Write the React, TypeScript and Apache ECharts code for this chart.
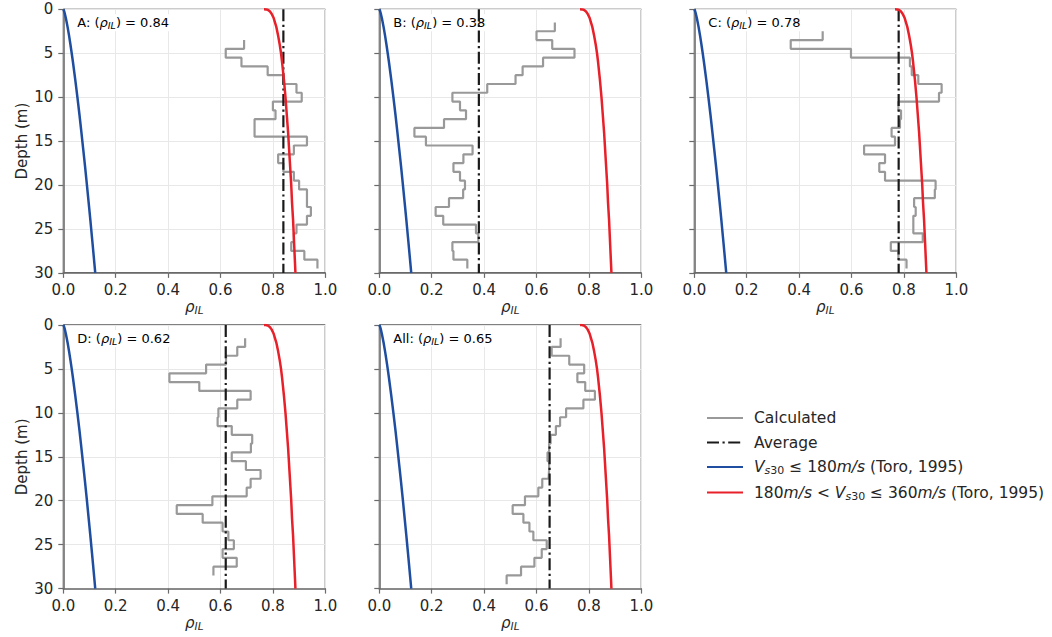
import React, { useEffect, useRef } from "react";
import * as echarts from "echarts";

// ---- data ----
const panelLabels = ["A", "B", "C", "D", "All"];
const panelAverages = [0.84, 0.38, 0.78, 0.62, 0.65];
const layerStarts = [3.5, 1.5, 2.5, 1.5, 1.5];
const layerThickness = 1;

const calcA = [0.69, 0.62, 0.68, 0.78, 0.84, 0.89, 0.91, 0.8, 0.81, 0.73, 0.73, 0.93, 0.88, 0.82, 0.84, 0.88, 0.9, 0.93, 0.93, 0.945, 0.93, 0.89, 0.88, 0.87, 0.92, 0.97];
const calcB = [0.67, 0.6, 0.66, 0.745, 0.625, 0.547, 0.52, 0.412, 0.279, 0.308, 0.331, 0.247, 0.134, 0.178, 0.356, 0.321, 0.283, 0.308, 0.327, 0.32, 0.266, 0.215, 0.244, 0.369, 0.378, 0.279, 0.283, 0.336];
const calcC = [0.49, 0.368, 0.598, 0.823, 0.83, 0.855, 0.944, 0.934, 0.779, 0.789, 0.785, 0.753, 0.766, 0.648, 0.728, 0.706, 0.728, 0.921, 0.918, 0.839, 0.845, 0.836, 0.836, 0.872, 0.75, 0.779, 0.81];
const calcD = [0.694, 0.664, 0.621, 0.545, 0.405, 0.519, 0.715, 0.664, 0.592, 0.589, 0.643, 0.721, 0.716, 0.643, 0.697, 0.753, 0.715, 0.7, 0.569, 0.433, 0.532, 0.608, 0.63, 0.651, 0.608, 0.662, 0.573];
const calcAll = [0.692, 0.658, 0.725, 0.782, 0.756, 0.786, 0.823, 0.779, 0.713, 0.69, 0.674, 0.654, 0.648, 0.642, 0.648, 0.646, 0.622, 0.607, 0.556, 0.509, 0.55, 0.573, 0.588, 0.639, 0.62, 0.592, 0.541, 0.486];
const calcPanels = [calcA, calcB, calcC, calcD, calcAll];

const toroDepths = [0, 0.01, 0.02, 0.05, 0.1, 0.25, 0.5, 1, 2, 3, 4, 5, 6, 8, 10, 12, 14, 16, 18, 20, 22, 24, 26, 28, 30];
const toroSoft = [0, 0.0003, 0.0006, 0.001, 0.0018, 0.0035, 0.0058, 0.0097, 0.0163, 0.022, 0.0272, 0.0321, 0.0368, 0.0456, 0.0538, 0.0617, 0.0691, 0.0763, 0.0834, 0.0902, 0.0968, 0.1033, 0.1096, 0.1158, 0.1219];
const toroStiff = [0.766, 0.774, 0.776, 0.779, 0.783, 0.789, 0.795, 0.803, 0.813, 0.82, 0.826, 0.831, 0.835, 0.842, 0.848, 0.853, 0.858, 0.862, 0.866, 0.87, 0.873, 0.877, 0.88, 0.883, 0.886];

const xTicks = { min: 0, max: 1, interval: 0.2 };
const yTicks = { min: 0, max: 30, interval: 5 };

const NAME_CALC = "Calculated";
const NAME_AVG = "Average";
const NAME_SOFT = "Vs30 ≤ 180m/s (Toro, 1995)";
const NAME_STIFF = "180m/s < Vs30 ≤ 360m/s (Toro, 1995)";

// ---- layout ----
const colLeft = [63.3, 379.3, 694.3];
const rowTop = [9.3, 325];
const gw = 262;
const gh = 263.6;
const FONT = "DejaVu Sans";
const spineGray = "#6b6b6b";

function stepPoints(start: number, vals: number[]) {
  const pts: number[][] = [];
  vals.forEach((v, i) => {
    pts.push([v, start + i * layerThickness]);
    pts.push([v, start + (i + 1) * layerThickness]);
  });
  return pts;
}

export default function App() {
  const ref = useRef<HTMLDivElement>(null);
  useEffect(() => {
    if (!ref.current) return;
    const chart = echarts.init(ref.current, null, { renderer: "svg" });
    const grids: any[] = [];
    const xAxes: any[] = [];
    const yAxes: any[] = [];
    const series: any[] = [];
    const graphics: any[] = [];
    const richSub = {
      i: { fontFamily: FONT, fontStyle: "italic", fontSize: 15, color: "#262626" },
      s: { fontFamily: FONT, fontStyle: "italic", fontSize: 10.5, color: "#262626", padding: [7, 0, 0, 0] },
    };
    panelLabels.forEach((lab, p) => {
      const col = p % 3;
      const row = Math.floor(p / 3);
      const left = colLeft[col];
      const top = rowTop[row];
      grids.push({ left, top, width: gw, height: gh, show: true, borderColor: "#000", borderWidth: 1, backgroundColor: "transparent" });
      xAxes.push({
        type: "value", gridIndex: p, position: "bottom", ...xTicks,
        axisLine: { show: true, onZero: false, lineStyle: { color: spineGray, width: 1.6 } },
        axisTick: { show: true, length: 5, lineStyle: { color: spineGray, width: 1.2 } },
        axisLabel: { fontFamily: FONT, fontSize: 15, color: "#262626", margin: 10, formatter: (v: number) => v.toFixed(1) },
        splitLine: { show: true, lineStyle: { color: "#e8e8e8", width: 1 } },
        name: "{i|ρ}{s|IL}", nameLocation: "middle", nameGap: 25,
        nameTextStyle: { rich: richSub },
      });
      yAxes.push({
        type: "value", gridIndex: p, inverse: true, position: "left", ...yTicks,
        axisLine: { show: true, onZero: false, lineStyle: { color: spineGray, width: 1.6 } },
        axisTick: { show: true, length: 5, lineStyle: { color: spineGray, width: 1.2 } },
        axisLabel: { show: col === 0, fontFamily: FONT, fontSize: 15, color: "#262626", margin: 10 },
        splitLine: { show: true, lineStyle: { color: "#e8e8e8", width: 1 } },
        name: col === 0 ? "Depth (m)" : "", nameLocation: "middle", nameGap: 34,
        nameTextStyle: { fontFamily: FONT, fontSize: 15, color: "#262626" },
      });
      series.push({
        type: "line", name: NAME_CALC, xAxisIndex: p, yAxisIndex: p, symbol: "none",
        data: stepPoints(layerStarts[p], calcPanels[p]),
        lineStyle: { color: "#999999", width: 2.2 }, itemStyle: { color: "#999999" }, z: 2,
      });
      series.push({
        type: "line", name: NAME_AVG, xAxisIndex: p, yAxisIndex: p, symbol: "none",
        data: [[panelAverages[p], yTicks.min], [panelAverages[p], yTicks.max]],
        lineStyle: { color: "#1a1a1a", width: 2.2, type: [12, 3.5, 2.2, 3.5] }, itemStyle: { color: "#1a1a1a" }, z: 3,
      });
      series.push({
        type: "line", name: NAME_SOFT, xAxisIndex: p, yAxisIndex: p, symbol: "none", smooth: false,
        data: toroDepths.map((d, i) => [toroSoft[i], d]),
        lineStyle: { color: "#1f4ea0", width: 2.5 }, itemStyle: { color: "#1f4ea0" }, z: 4,
      });
      series.push({
        type: "line", name: NAME_STIFF, xAxisIndex: p, yAxisIndex: p, symbol: "none", smooth: false,
        data: toroDepths.map((d, i) => [toroStiff[i], d]),
        lineStyle: { color: "#e8202a", width: 2.5 }, itemStyle: { color: "#e8202a" }, z: 5,
      });
      graphics.push({
        type: "text", left: left + 12, top: top + 5, z: 1,
        style: {
          text: `{n|${lab}: (}{i|ρ}{s|IL}{n|) = ${panelAverages[p].toFixed(2)}}`,
          backgroundColor: "#ffffff", padding: [1, 2, 1, 2],
          rich: {
            n: { fontFamily: FONT, fontSize: 13, color: "#262626" },
            i: { fontFamily: FONT, fontStyle: "italic", fontSize: 13, color: "#262626" },
            s: { fontFamily: FONT, fontStyle: "italic", fontSize: 9.5, color: "#262626", padding: [5, 0, 0, 0] },
          },
        },
      });
    });

    const legendMap: Record<string, string> = {
      [NAME_CALC]: "{n|Calculated}",
      [NAME_AVG]: "{n|Average}",
      [NAME_SOFT]: "{i|V}{si|s}{sn|30}{n| ≤ 180}{i|m/s}{n| (Toro, 1995)}",
      [NAME_STIFF]: "{n|180}{i|m/s}{n| < }{i|V}{si|s}{sn|30}{n| ≤ 360}{i|m/s}{n| (Toro, 1995)}",
    };

    chart.setOption({
      animation: false,
      grid: grids,
      xAxis: xAxes,
      yAxis: yAxes,
      series,
      graphic: graphics,
      legend: {
        show: true, orient: "vertical", left: 706, top: 410, padding: 0,
        itemWidth: 36, itemHeight: 14, itemGap: 8.5,
        itemStyle: { opacity: 0, color: "rgba(0,0,0,0)", borderWidth: 0 },
        data: [NAME_CALC, NAME_AVG, NAME_SOFT, NAME_STIFF],
        formatter: (name: string) => legendMap[name] || name,
        textStyle: {
          fontFamily: FONT, fontSize: 15.5, color: "#262626", padding: [0, 0, 0, 6],
          rich: {
            n: { fontFamily: FONT, fontSize: 15.5, color: "#262626", lineHeight: 19 },
            i: { fontFamily: FONT, fontStyle: "italic", fontSize: 15.5, color: "#262626", lineHeight: 19 },
            si: { fontFamily: FONT, fontStyle: "italic", fontSize: 11, color: "#262626", padding: [7, 0, 0, 0] },
            sn: { fontFamily: FONT, fontSize: 11, color: "#262626", padding: [7, 0, 0, 0] },
          },
        },
      },
    });
    return () => chart.dispose();
  }, []);
  return <div ref={ref} style={{ position: "fixed", left: 0, top: 0, width: 1052, height: 637, background: "#fff" }} />;
}
